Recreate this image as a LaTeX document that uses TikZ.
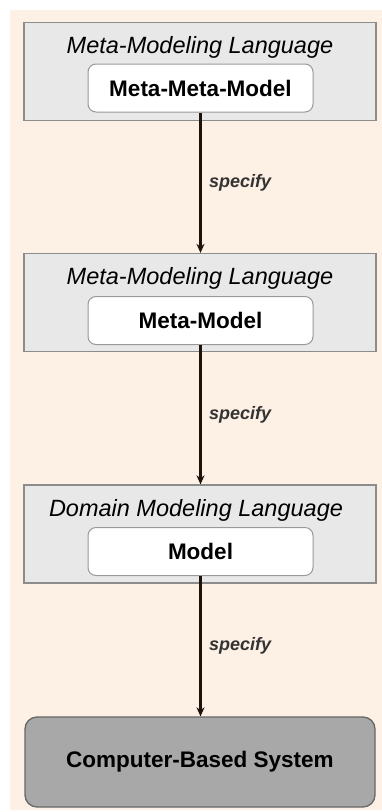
\documentclass[tikz,border=0pt]{standalone}
\usepackage{fontspec}
\setmainfont{Liberation Sans}
\usepackage{tikz}
\usetikzlibrary{arrows.meta}
\definecolor{peach}{HTML}{FDF0E4}
\definecolor{langgray}{HTML}{E8E8E8}
\definecolor{sysgray}{HTML}{A8A8A8}
\tikzset{
  langbox/.style={draw=black!45, line width=1.3pt, fill=langgray, minimum width=352pt, minimum height=98pt, inner sep=0pt},
  modelbox/.style={draw=black!40, line width=1pt, fill=white, rounded corners=8pt, minimum width=225pt, minimum height=48pt, inner sep=0pt, font=\fontsize{22.5}{26}\selectfont\bfseries},
  langtitle/.style={font=\fontsize{23.5}{27}\selectfont\itshape},
  sysbox/.style={draw=black!60, line width=1.3pt, fill=sysgray, rounded corners=12pt, minimum width=350pt, minimum height=90pt, inner sep=0pt, font=\fontsize{22.5}{26}\selectfont\bfseries},
  spec/.style={draw=black!85!brown, line width=2.6pt, -{Stealth[length=9pt,width=8pt]}},
  speclabel/.style={font=\fontsize{18}{21}\selectfont\bfseries\itshape, text=black!80}
}
\begin{document}
\begin{tikzpicture}[x=1pt,y=-1pt]
\useasboundingbox (0,0) rectangle (382,812);
\fill[peach] (10,10) rectangle (382,810);

% three language levels
\node[langbox] (lang1) at (200,71.5) {};
\node[langtitle] (title1) at (200,47) {Meta-Modeling Language};
\node[modelbox] (mmm) at (200.5,88) {Meta-Meta-Model};

\node[langbox] (lang2) at (200,302.5) {};
\node[langtitle] (title2) at (200,278) {Meta-Modeling Language};
\node[modelbox] (mm) at (200.5,320.5) {Meta-Model};

\node[langbox] (lang3) at (200,534) {};
\node[langtitle] (title3) at (196,510) {Domain Modeling Language};
\node[modelbox] (model) at (200.5,551.5) {Model};

% system
\node[sysbox] (sys) at (200,762) {Computer-Based System};

% specify arrows
\draw[spec] (mmm.south) -- (mmm.south |- lang2.north) node[midway, right=4pt, speclabel] {specify};
\draw[spec] (mm.south) -- (mm.south |- lang3.north) node[midway, right=4pt, speclabel] {specify};
\draw[spec] (model.south) -- (model.south |- sys.north) node[midway, right=4pt, speclabel] {specify};
\end{tikzpicture}
\end{document}
